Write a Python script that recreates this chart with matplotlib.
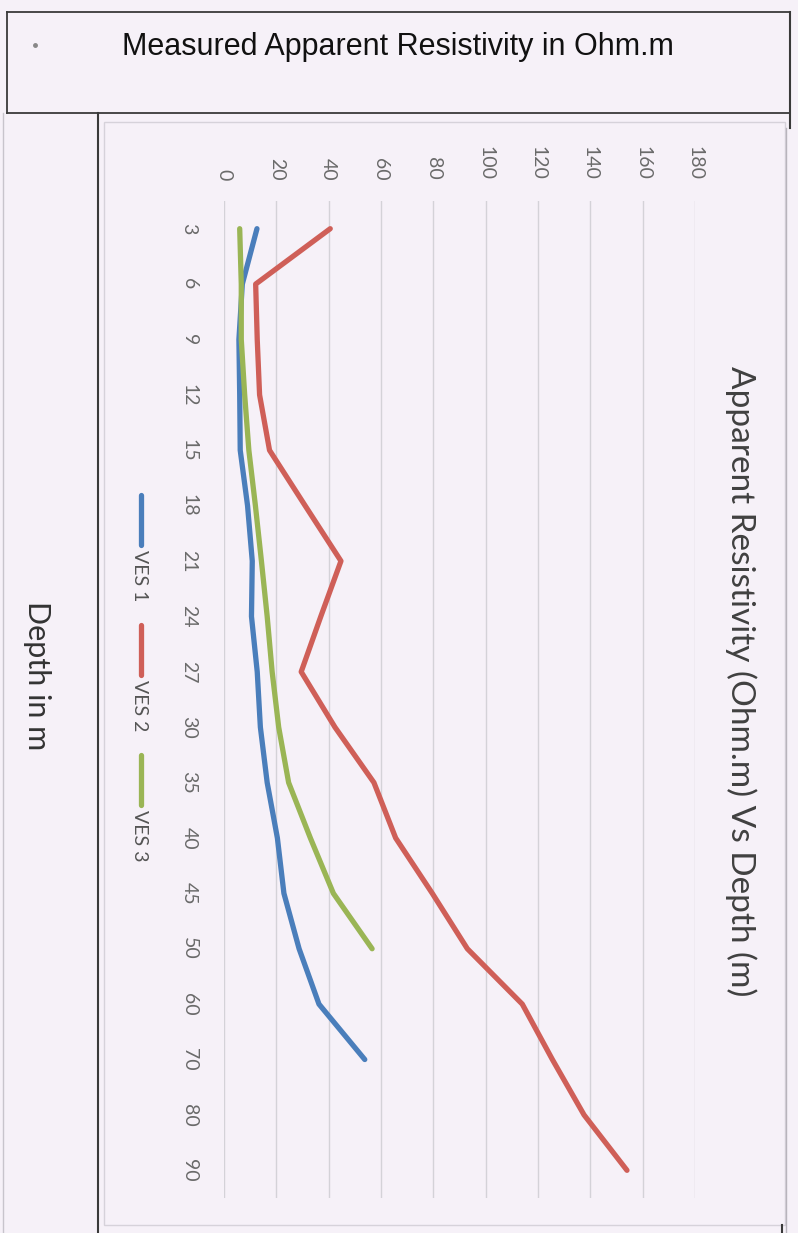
import matplotlib
matplotlib.use("Agg")
import matplotlib.pyplot as plt
import numpy as np

# ---- data ----
depths = ["3", "6", "9", "12", "15", "18", "21", "24", "27", "30",
          "35", "40", "45", "50", "60", "70", "80", "90"]
ves1 = [12.6, 7.0, 5.7, 6.0, 6.2, 9.0, 10.8, 10.5, 12.7, 13.9,
        16.5, 20.4, 22.9, 28.7, 36.3, 53.8, None, None]
ves2 = [40.6, 12.1, 12.7, 13.6, 17.4, 31.0, 44.7, 37.0, 29.5, 42.4,
        57.3, 65.6, 79.6, 93.0, 114.0, 125.5, 137.6, 154.0]
ves3 = [6.0, 6.6, 6.6, 7.9, 9.5, 12.0, 14.3, 16.5, 18.4, 20.9,
        24.7, 33.0, 41.8, 56.6, None, None, None, None]
series_names = ["VES 1", "VES 2", "VES 3"]
series_colors = ["#4a7ebb", "#cf5f58", "#9ab555"]
value_ticks = [0, 20, 40, 60, 80, 100, 120, 140, 160, 180]

W, H = 798, 1233
BG = "#f6f1f8"
fig = plt.figure(figsize=(W / 100, H / 100), dpi=100, facecolor=BG)

def fx(px):
    return px / W

def fy(py):
    return 1 - py / H

# page / table lines
overlay = fig.add_axes([0, 0, 1, 1], facecolor="none")
overlay.set_xlim(0, W)
overlay.set_ylim(H, 0)
overlay.axis("off")
tc = "#3a3a3a"
overlay.plot([7, 790], [12, 12], color=tc, lw=1.3)
overlay.plot([7, 790], [113, 113], color=tc, lw=1.3)
overlay.plot([7, 7], [12, 113], color=tc, lw=1.3)
overlay.plot([790, 790], [12, 128], color=tc, lw=1.5)
overlay.plot([98, 98], [113, 1233], color=tc, lw=1.5)
overlay.plot([3, 3], [113, 1233], color="#c8c4cc", lw=1.0)
overlay.plot([786, 786], [128, 1233], color="#b8b4bc", lw=1.0)
overlay.plot([782, 782], [1225, 1233], color=tc, lw=1.5)
# chart area border
overlay.add_patch(plt.Rectangle((104, 122), 681, 1103, fill=False,
                                edgecolor="#d6d2da", lw=1.0))
overlay.plot([35], [45], marker="o", ms=2.5, color="#888888")

fig.text(fx(398), fy(47), "Measured Apparent Resistivity in Ohm.m",
         family="Liberation Sans", fontsize=22, color="#111111",
         ha="center", va="center")
fig.text(fx(37), fy(676), "Depth in m", family="Lato", fontsize=22,
         color="#333333", rotation=-90, ha="center", va="center")
fig.text(fx(741), fy(681), "Apparent Resistivity (Ohm.m) Vs Depth (m)",
         family="Lato", fontsize=24, color="#404040", rotation=-90,
         ha="center", va="center")

# main plot (chart rotated 90 degrees clockwise)
left, right, top, bottom = 224, 695, 201, 1198
ax = fig.add_axes([fx(left), fy(bottom), fx(right - left), (bottom - top) / H],
                  facecolor="none")
pos = np.arange(len(depths))
for vals, c in zip([ves1, ves2, ves3], series_colors):
    v = np.array([np.nan if x is None else x for x in vals], dtype=float)
    ax.plot(v, pos, color=c, lw=3.8, solid_capstyle="round",
            solid_joinstyle="round", zorder=3)

ax.set_xlim(0, 180)
ax.set_ylim(len(depths) - 0.5, -0.5)
ax.set_xticks(value_ticks)
ax.set_xticklabels([str(t) for t in value_ticks])
ax.xaxis.tick_top()
ax.set_yticks(pos)
ax.set_yticklabels(depths)
ax.tick_params(axis="x", length=0, pad=15, labelsize=14, labelcolor="#6a6a6a",
               labelrotation=-90)
ax.tick_params(axis="y", length=0, pad=19, labelsize=14, labelcolor="#6a6a6a",
               labelrotation=-90)
for lab in ax.get_xticklabels():
    lab.set_family("Lato")
    lab.set_va("bottom")
for lab in ax.get_yticklabels():
    lab.set_family("Lato")
    lab.set_va("center")
ax.grid(axis="x", color="#d4d2d8", lw=1.0)
ax.set_axisbelow(True)
for s in ax.spines.values():
    s.set_visible(False)

# legend (rotated)
leg_y = [495, 625, 755]
for name, c, y0 in zip(series_names, series_colors, leg_y):
    overlay.plot([141, 141], [y0, y0 + 50], color=c, lw=3.8, solid_capstyle="round")
    overlay.text(140, y0 + 55, name, family="Lato", fontsize=14, color="#555555",
                 rotation=-90, ha="center", va="top")

fig.savefig("out.png", dpi=100, facecolor=BG)
